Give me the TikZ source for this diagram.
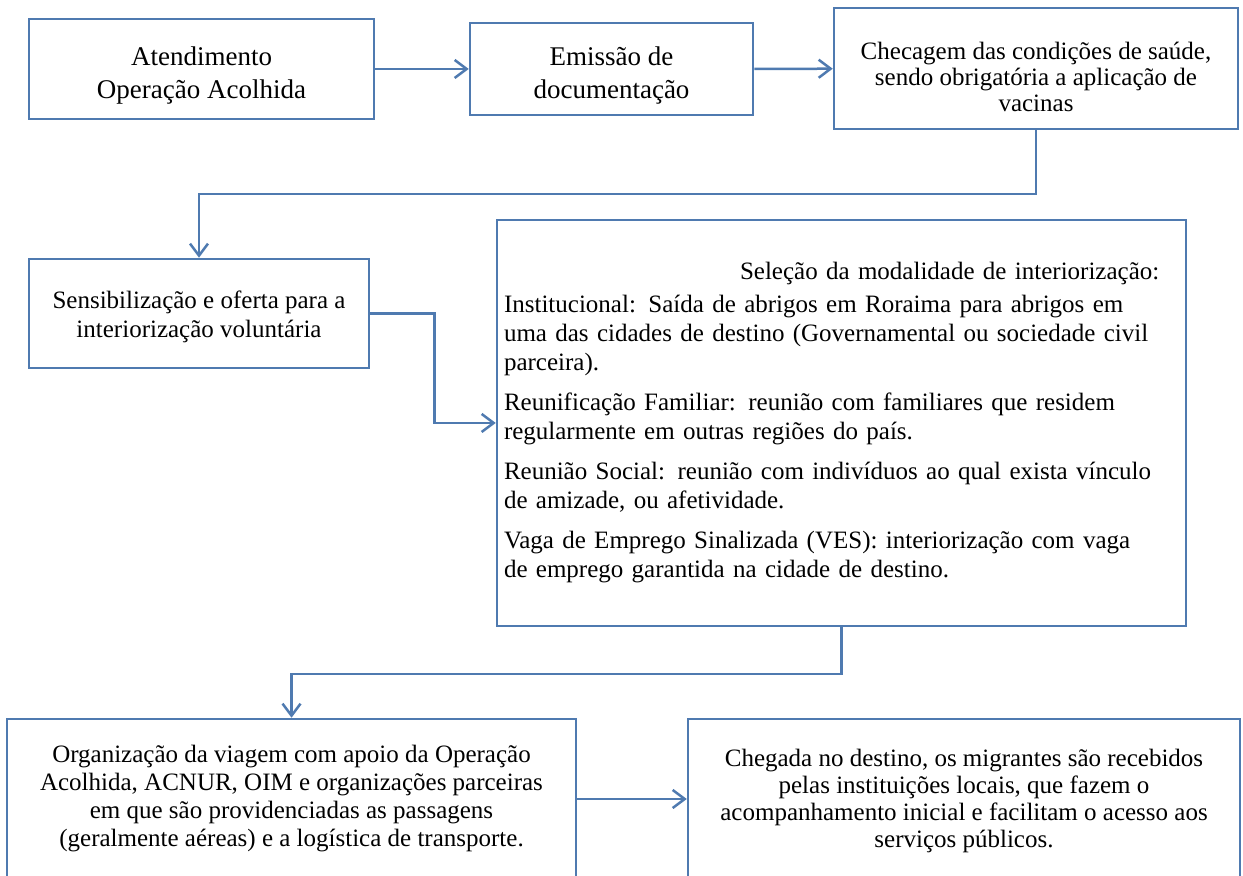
\documentclass[tikz,border=0pt]{standalone}
\usepackage{fontspec}
\setmainfont{Liberation Serif}
\usetikzlibrary{arrows.meta}
\definecolor{boxblue}{RGB}{79,122,176}
\tikzset{box/.style={rectangle,draw=boxblue,line width=1.25pt,fill=white,align=center,inner sep=0pt,font=\fontsize{12.5pt}{14pt}\selectfont}}
\tikzset{flow/.style={draw=boxblue,line width=1.25pt,-{Straight Barb[length=6pt,width=9pt]}}}

\begin{document}
\begin{tikzpicture}[x=0.5pt,y=-0.5pt]
      \fill[white] (0,0) rectangle (1243,876);
      \useasboundingbox (0,0) rectangle (1243,876);
      \node[box,minimum width=172.5pt,minimum height=50pt,font=\fontsize{13.5pt}{16.5pt}\selectfont] (atend) at (201.5,69) {\rule{0pt}{16pt}Atendimento\\Operação Acolhida};
      \node[box,minimum width=141.5pt,minimum height=46pt,font=\fontsize{13.5pt}{16.5pt}\selectfont] (emiss) at (611.5,69) {\rule{0pt}{16pt}Emissão de\\documentação};
      \node[box,minimum width=202pt,minimum height=60.5pt,font=\fontsize{12.5pt}{13pt}\selectfont] (checa) at (1036,68.5) {\rule{0pt}{17pt}Checagem das condições de saúde,\\sendo obrigatória a aplicação de\\vacinas};
      \node[box,minimum width=170pt,minimum height=54.5pt,font=\fontsize{12.5pt}{14.5pt}\selectfont] (sensib) at (199,313.5) {\rule{0pt}{12.5pt}Sensibilização e oferta para a\\interiorização voluntária};
      \node[box,minimum width=344.5pt,minimum height=203pt,align=left,text width=337.5pt,font=\fontsize{12.5pt}{14.5pt}\selectfont] (selec) at (841.5,423) {\hspace*{118pt}Seleção da modalidade de interiorização:\\[2pt]
        Institucional: Saída de abrigos em Roraima para abrigos em\\
        uma das cidades de destino (Governamental ou sociedade civil\\
        parceira).\\[5.5pt]
        Reunificação Familiar: reunião com familiares que residem\\
        regularmente em outras regiões do país.\\[5.5pt]
        Reunião Social: reunião com indivíduos ao qual exista vínculo\\
        de amizade, ou afetividade.\\[5.5pt]
        Vaga de Emprego Sinalizada (VES): interiorização com vaga\\
        de emprego garantida na cidade de destino.};
      \node[box,minimum width=284.5pt,minimum height=80pt] (organ) at (291.5,799) {Organização da viagem com apoio da Operação\\Acolhida, ACNUR, OIM e organizações parceiras\\em que são providenciadas as passagens\\(geralmente aéreas) e a logística de transporte.};
      \node[box,minimum width=276pt,minimum height=80pt,font=\fontsize{12.5pt}{13.5pt}\selectfont] (cheg) at (964,799) {\rule{0pt}{11pt}Chegada no destino, os migrantes são recebidos\\pelas instituições locais, que fazem o\\acompanhamento inicial e facilitam o acesso aos\\serviços públicos.};
        \draw[flow] (atend) -- (emiss);
        \draw[flow] (emiss) -- (checa);
        \draw[flow] (checa.south) -- ++(0,64) -| (sensib.north);
        \draw[flow] (sensib.east) -- ++(64,0) |- (selec.west);
        \draw[flow] (selec.south) -- ++(0,47) -| (organ.north);
        \draw[flow] (organ) -- (cheg);
    \end{tikzpicture}
\end{document}
